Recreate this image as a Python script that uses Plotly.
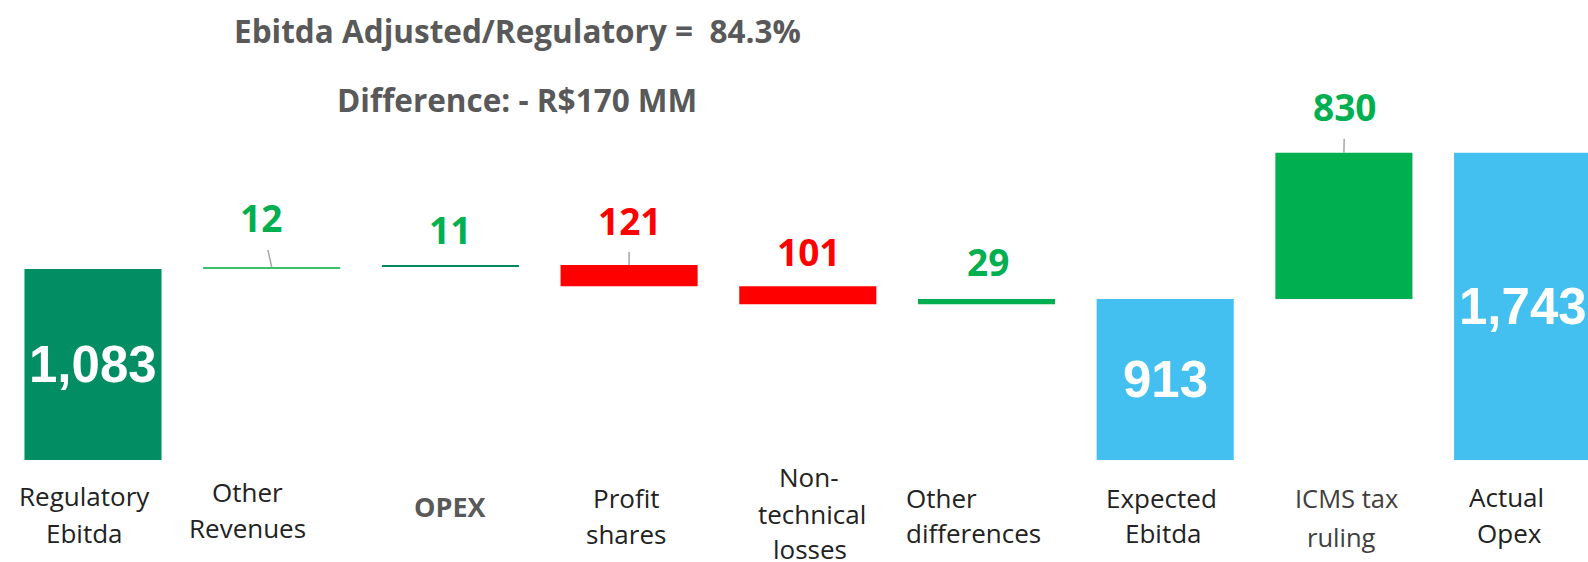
import plotly.graph_objects as go

# ---------------- data ----------------
categories = ["Regulatory<br>Ebitda", "Other<br>Revenues", "OPEX", "Profit<br>shares",
              "Non-<br>technical<br>losses", "Other<br>differences", "Expected<br>Ebitda",
              "ICMS tax<br>ruling", "Actual<br>Opex"]
values = [1083, 12, 11, -121, -101, 29, 913, 830, 1743]
measures = ["total", "relative", "relative", "relative", "relative", "relative",
            "total", "relative", "total"]
value_labels = ["1,083", "12", "11", "121", "101", "29", "913", "830", "1,743"]
title_line1 = "Ebitda Adjusted/Regulatory =\u00a0 84.3%"
title_line2 = "Difference: - R$170 MM"

# ---------------- styles ----------------
bar_colors = ["#028D62", "#3DBE6C", "#00895E", "#FF0000", "#FF0000", "#00B050",
              "#43C0F0", "#00B050", "#43C0F0"]
label_colors = ["#FFFFFF", "#00B050", "#00B050", "#FF0000", "#FF0000", "#00B050",
                "#FFFFFF", "#00B050", "#FFFFFF"]
# pixel offsets of delta labels from bar top (ax, ay) and whether a leader line is drawn
label_ax = [0, -11, 0, 0, 1, 1, 0, 1, 0]
label_ay = [0, -49, -36, -45, -35, -38, 0, -46, 0]
label_leader = [False, True, False, True, False, False, False, True, False]
# category label placement: per-line vertical centre (px from top) and x shift (px)
cat_line_y = [[496, 533], [492, 528], [506], [497.5, 534], [477, 514, 549],
              [498, 533], [498, 533], [498, 537], [497, 533]]
cat_line_xshift = [[-9, -9], [-24, -24], [0], [-3, -3], [1, 4, 2],
                   [-45, -13], [-4, -2], [3, -2], [-16, -13]]
base_font = dict(family="Open Sans", size=26, color="#222222")
cat_fonts = [base_font] * 9
cat_fonts[2] = dict(family="Open Sans", size=27, color="#595959", weight="bold")
cat_fonts[7] = dict(family="Liberation Sans Narrow, Open Sans", size=25.5, color="#404040")

FIG_H = 562

# ---------------- compute waterfall geometry ----------------
bases, heights, tops = [], [], []
running = 0
for v, m in zip(values, measures):
    if m == "total":
        base, h = 0, v
        running = v
    else:
        base = running if v >= 0 else running + v
        h = abs(v)
        running += v
    bases.append(base)
    heights.append(h)
    tops.append(base + h)

xs = list(range(len(categories)))

fig = go.Figure()
fig.add_trace(go.Bar(
    x=xs, y=heights, base=bases, width=0.767,
    marker=dict(color=bar_colors, line=dict(width=0)),
    hoverinfo="skip", showlegend=False,
))

annotations = []
for i, (m, lab) in enumerate(zip(measures, value_labels)):
    if m == "total":
        annotations.append(dict(
            x=xs[i], y=tops[i] / 2, xref="x", yref="y", text=lab, showarrow=False,
            font=dict(family="Liberation Sans, Arial", size=51, color=label_colors[i], weight="bold"),
            xanchor="center", yanchor="middle"))
    else:
        annotations.append(dict(
            x=xs[i], y=tops[i], xref="x", yref="y", text=lab, showarrow=True,
            ax=label_ax[i], ay=label_ay[i], axref="pixel", ayref="pixel",
            arrowhead=0, arrowwidth=1.5, startstandoff=5,
            arrowcolor="#A6A6A6" if label_leader[i] else "rgba(0,0,0,0)",
            font=dict(family="Open Sans", size=37, color=label_colors[i], weight="bold")))

for i, cat in enumerate(categories):
    lines = cat.split("<br>")
    for j, line in enumerate(lines):
        py = cat_line_y[i][j]
        annotations.append(dict(
            x=xs[i], y=1 - py / FIG_H, xref="x", yref="paper", text=line,
            showarrow=False, xanchor="center", yanchor="middle",
            xshift=cat_line_xshift[i][j], font=cat_fonts[i]))

annotations.append(dict(x=517 / 1588, y=1 - 31 / FIG_H, xref="paper", yref="paper",
                        text=title_line1, showarrow=False, xanchor="center", yanchor="middle",
                        font=dict(family="Open Sans", size=31.5, color="#595959", weight="bold")))
annotations.append(dict(x=517 / 1588, y=1 - 99 / FIG_H, xref="paper", yref="paper",
                        text=title_line2, showarrow=False, xanchor="center", yanchor="middle",
                        font=dict(family="Open Sans", size=31.5, color="#595959", weight="bold")))

fig.update_layout(
    width=1588, height=FIG_H,
    margin=dict(l=0, r=0, t=0, b=0),
    paper_bgcolor="white", plot_bgcolor="white",
    xaxis=dict(range=[-0.5204, 8.366], visible=False, fixedrange=True),
    yaxis=dict(range=[-578.6, 2609.2], visible=False, fixedrange=True),
    annotations=annotations,
    showlegend=False,
)

fig.write_html("out.html", config=dict(displayModeBar=False),
               post_script="document.body.style.margin='0';document.body.style.overflow='hidden';")
